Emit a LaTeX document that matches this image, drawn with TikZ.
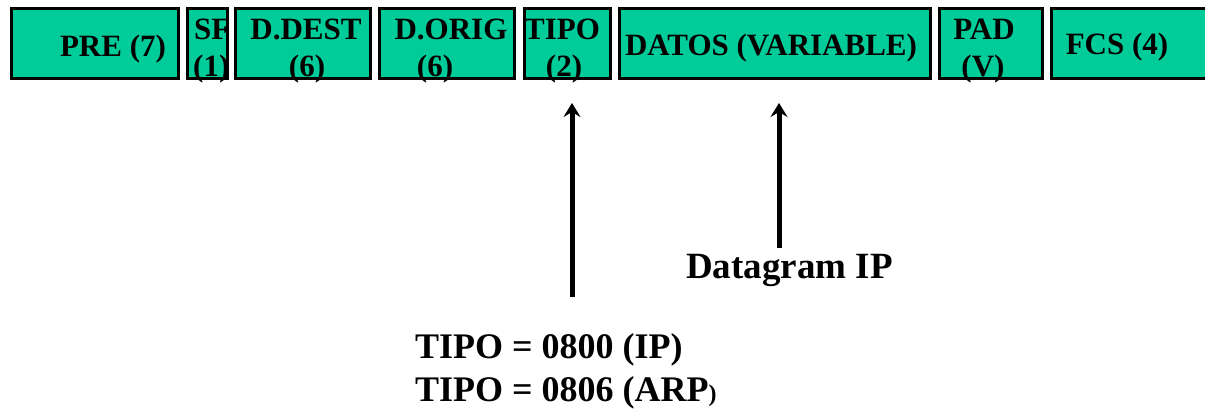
\documentclass[tikz,border=0pt]{standalone}
\usepackage{fontspec}
\setmainfont{Liberation Serif}
\usetikzlibrary{arrows.meta}
\definecolor{fieldgreen}{HTML}{00CC99}
\begin{document}
\begin{tikzpicture}[x=1pt,y=-1pt,
  field/.style={draw=black,line width=3pt,fill=fieldgreen,inner sep=0pt,outer sep=0pt,
                minimum height=70.5pt,anchor=north west},
  ftext/.style={anchor=base,inner sep=0pt,font=\fontsize{31}{31}\selectfont\bfseries},
  note/.style={anchor=base west,inner sep=0pt,font=\fontsize{36}{36}\selectfont\bfseries},
  pointer/.style={line width=5pt,-{Stealth[length=14pt,width=17pt,inset=5pt]}}]
\useasboundingbox (0,0) rectangle (1205,411);

% Ethernet frame fields
\node[field,minimum width=167pt] (pre)   at (11.5,8.5)  {};
\node[field,minimum width=40pt]  (sfd)   at (187.5,8.5) {};
\node[field,minimum width=135pt] (ddest) at (235.5,8.5) {};
\node[field,minimum width=135pt] (dorig) at (379.5,8.5) {};
\node[field,minimum width=86pt]  (tipo)  at (524.5,8.5) {};
\node[field,minimum width=311pt] (datos) at (619.5,8.5) {};
\node[field,minimum width=103pt] (pad)   at (939.5,8.5) {};
\node[field,minimum width=170pt] (fcs)   at (1051.5,8.5) {};

% Field labels
\node[ftext] (tpre) at (113,57) {PRE (7)};
\begin{scope}
  \clip (187,0) rectangle (228,100);
  \node[ftext,anchor=base west] (tsfd)  at (194,40) {SFD};
  \node[ftext,anchor=base west] (tsfd2) at (193,77) {(1)};
\end{scope}
\node[ftext] (tddest)  at (306,40) {D.DEST};
\node[ftext] (tddest2) at (307,77) {(6)};
\node[ftext] (tdorig)  at (451,40) {D.ORIG};
\node[ftext] (tdorig2) at (435,77) {(6)};
\node[ftext] (ttipo)   at (562,40) {TIPO};
\node[ftext] (ttipo2)  at (564,77) {(2)};
\node[ftext] (tdatos)  at (771,56) {DATOS (VARIABLE)};
\node[ftext] (tpad)    at (984,40) {PAD};
\node[ftext] (tpad2)   at (983,77) {(V)};
\node[ftext] (tfcs)    at (1117,55) {FCS (4)};

% Annotations
\node[note] (tipoval1) at (415,359) {TIPO = 0800 (IP)};
\node[note] (tipoval2) at (415,402) {TIPO = 0806 (ARP{\fontsize{24}{24}\selectfont)}};
\node[note,font=\fontsize{37}{37}\selectfont\bfseries] (dgram) at (686,279) {Datagram IP};

% Pointers to the fields
\coordinate (tipoFrom) at (572,297);
\coordinate (tipoTo)   at (572,103);
\coordinate (datosFrom) at (779,248);
\coordinate (datosTo)   at (779,103);
\draw[pointer] (tipoFrom) -- (tipoTo);
\draw[pointer] (datosFrom) -- (datosTo);
\end{tikzpicture}
\end{document}
